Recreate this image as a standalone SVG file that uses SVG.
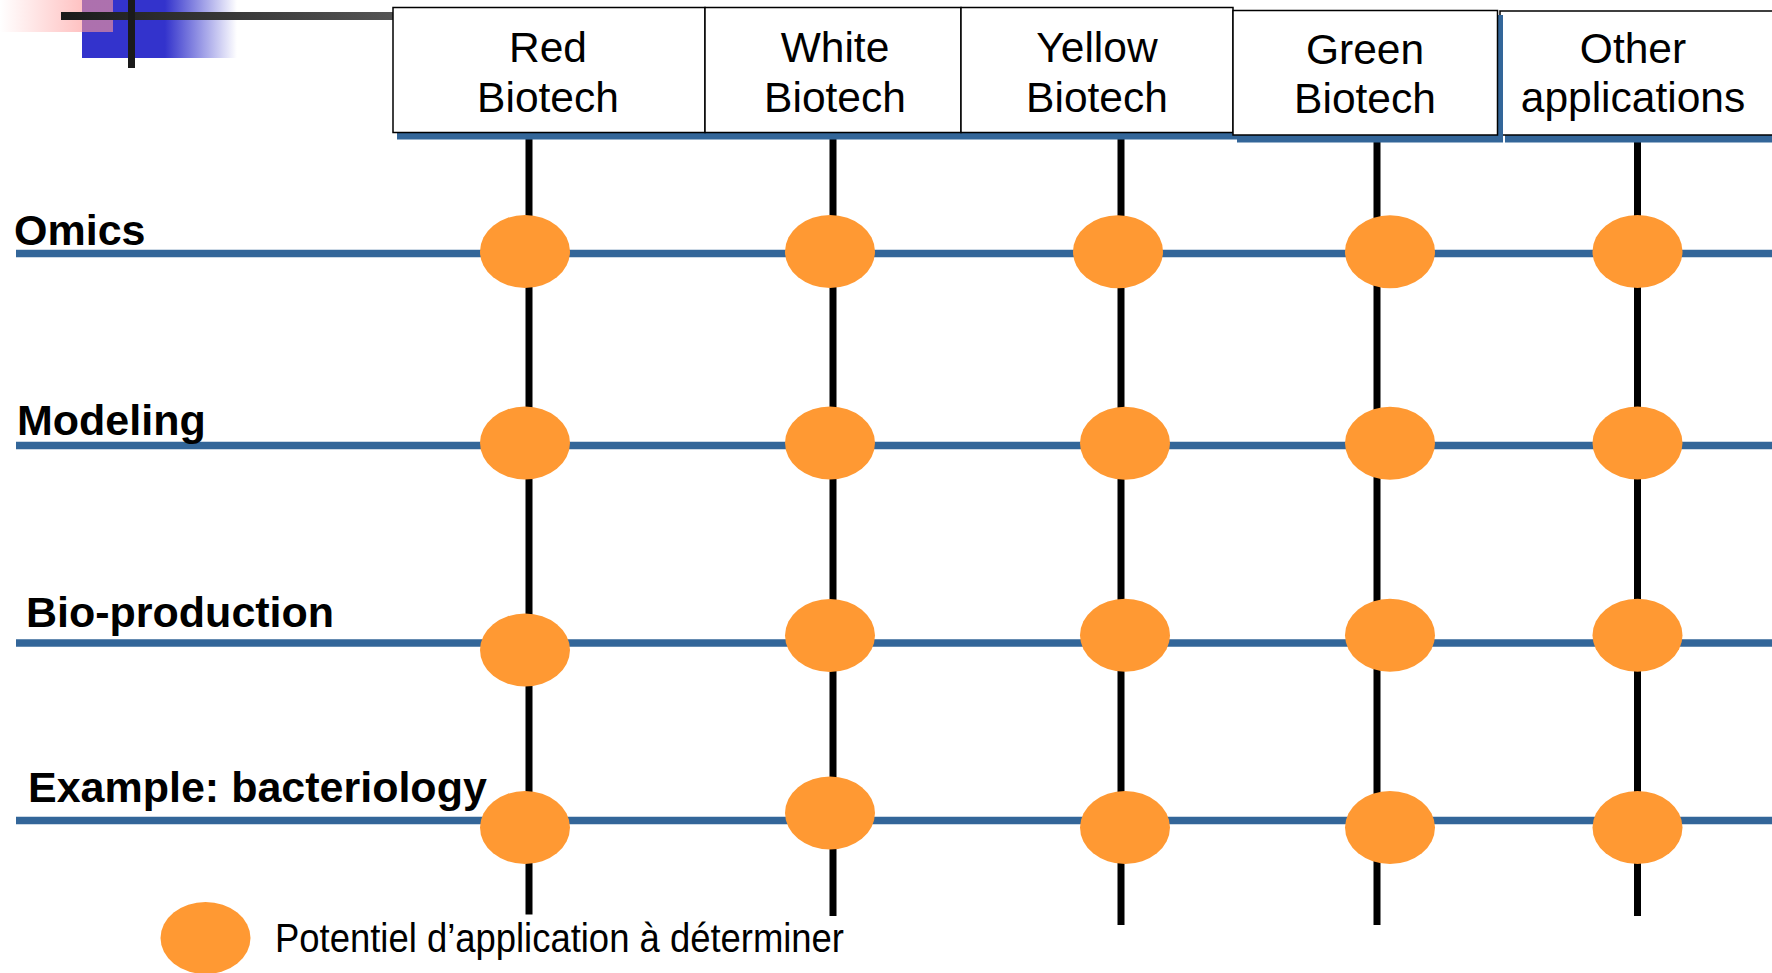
<svg xmlns="http://www.w3.org/2000/svg" width="1772" height="973" viewBox="0 0 1772 973">
  <defs>
    <linearGradient id="gBlue" x1="0" y1="0" x2="1" y2="0">
      <stop offset="0" stop-color="#3333cc"/>
      <stop offset="0.535" stop-color="#3333cc"/>
      <stop offset="1" stop-color="#3333cc" stop-opacity="0"/>
    </linearGradient>
    <linearGradient id="gPink" x1="0" y1="0" x2="1" y2="0">
      <stop offset="0" stop-color="#ff9a9a" stop-opacity="0"/>
      <stop offset="0.726" stop-color="#ff9a9a" stop-opacity="0.6"/>
      <stop offset="1" stop-color="#ff9a9a" stop-opacity="0.6"/>
    </linearGradient>
    <linearGradient id="gBar" x1="0" y1="0" x2="1" y2="0">
      <stop offset="0" stop-color="#1a1a1a"/>
      <stop offset="1" stop-color="#555555"/>
    </linearGradient>
    <style>
      .hdr { fill: #ffffff; stroke: #000000; stroke-width: 1.5; }
      .shd { fill: #336699; }
      .htxt { font-family: "Liberation Sans", Arial, sans-serif; font-size: 42.5px; fill: #000000; text-anchor: middle; }
      .rtxt { font-family: "Liberation Sans", Arial, sans-serif; font-size: 43px; font-weight: bold; fill: #000000; }
      .hline { stroke: #336699; stroke-width: 7.5; }
      .vline { stroke: #000000; stroke-width: 7; }
      .dot { fill: #ff9933; }
      .leg { font-family: "Liberation Sans", Arial, sans-serif; font-size: 40px; fill: #000000; }
    </style>
  </defs>

  <g id="decoration">
    <rect x="82" y="0" width="155" height="58" fill="url(#gBlue)"/>
    <rect x="0" y="0" width="113" height="32" fill="url(#gPink)"/>
    <rect x="61" y="12" width="334" height="8" fill="url(#gBar)"/>
    <rect x="128" y="0" width="7" height="68" fill="#1a1a1a"/>
  </g>

  <g id="connectors">
    <line class="vline" x1="529" y1="136" x2="529" y2="914.5"/>
    <line class="vline" x1="833" y1="136" x2="833" y2="916"/>
    <line class="vline" x1="1121" y1="136" x2="1121" y2="925"/>
    <line class="vline" x1="1377" y1="140" x2="1377" y2="925"/>
    <line class="vline" x1="1637.5" y1="140" x2="1637.5" y2="916"/>
    <line class="hline" x1="16" y1="253.5" x2="1772" y2="253.5"/>
    <line class="hline" x1="16" y1="445.5" x2="1772" y2="445.5"/>
    <line class="hline" x1="16" y1="643" x2="1772" y2="643"/>
    <line class="hline" x1="16" y1="820.5" x2="1772" y2="820.5"/>
  </g>

  <g id="header-other">
    <rect class="shd" x="1505" y="17" width="280" height="125.5"/>
    <rect class="hdr" x="1500" y="11" width="290" height="124"/>
    <text class="htxt" x="1633" y="63.3">Other</text>
    <text class="htxt" x="1633" y="112">applications</text>
  </g>
  <g id="header-red">
    <rect class="shd" x="397" y="12" width="312" height="127.5"/>
    <rect class="hdr" x="393" y="7.5" width="312" height="125"/>
    <text class="htxt" x="548" y="61.7">Red</text>
    <text class="htxt" x="548" y="111.7">Biotech</text>
  </g>
  <g id="header-white">
    <rect class="shd" x="709" y="12" width="256" height="127.5"/>
    <rect class="hdr" x="705" y="7.5" width="256" height="125"/>
    <text class="htxt" x="835" y="61.7">White</text>
    <text class="htxt" x="835" y="111.7">Biotech</text>
  </g>
  <g id="header-yellow">
    <rect class="shd" x="965" y="12" width="272" height="127.5"/>
    <rect class="hdr" x="961" y="7.5" width="272" height="125"/>
    <text class="htxt" x="1097" y="61.7">Yellow</text>
    <text class="htxt" x="1097" y="111.7">Biotech</text>
  </g>
  <g id="header-green">
    <rect class="shd" x="1237" y="15" width="266" height="127.5"/>
    <rect class="hdr" x="1233" y="10.5" width="264.5" height="124.5"/>
    <text class="htxt" x="1365" y="64">Green</text>
    <text class="htxt" x="1365" y="113.3">Biotech</text>
  </g>

  <g id="row-omics">
    <text class="rtxt" x="14" y="245">Omics</text>
    <ellipse class="dot" cx="525" cy="251.5" rx="45" ry="36.5"/>
    <ellipse class="dot" cx="830" cy="251.5" rx="45" ry="36.5"/>
    <ellipse class="dot" cx="1118" cy="251.7" rx="45" ry="36.5"/>
    <ellipse class="dot" cx="1390" cy="251.7" rx="45" ry="36.5"/>
    <ellipse class="dot" cx="1637.5" cy="251.5" rx="45" ry="36.5"/>
  </g>
  <g id="row-modeling">
    <text class="rtxt" x="17" y="435">Modeling</text>
    <ellipse class="dot" cx="525" cy="443" rx="45" ry="36.5"/>
    <ellipse class="dot" cx="830" cy="443" rx="45" ry="36.5"/>
    <ellipse class="dot" cx="1125" cy="443.3" rx="45" ry="36.5"/>
    <ellipse class="dot" cx="1390" cy="443.3" rx="45" ry="36.5"/>
    <ellipse class="dot" cx="1637.5" cy="443" rx="45" ry="36.5"/>
  </g>
  <g id="row-bioproduction">
    <text class="rtxt" x="26" y="627">Bio-production</text>
    <ellipse class="dot" cx="525" cy="650" rx="45" ry="36.5"/>
    <ellipse class="dot" cx="830" cy="635.5" rx="45" ry="36.5"/>
    <ellipse class="dot" cx="1125" cy="635.3" rx="45" ry="36.5"/>
    <ellipse class="dot" cx="1390" cy="635.3" rx="45" ry="36.5"/>
    <ellipse class="dot" cx="1637.5" cy="635.3" rx="45" ry="36.5"/>
  </g>
  <g id="row-example">
    <text class="rtxt" x="28" y="802">Example: bacteriology</text>
    <ellipse class="dot" cx="525" cy="827.5" rx="45" ry="36.5"/>
    <ellipse class="dot" cx="830" cy="813" rx="45" ry="36.5"/>
    <ellipse class="dot" cx="1125" cy="827.5" rx="45" ry="36.5"/>
    <ellipse class="dot" cx="1390" cy="827.5" rx="45" ry="36.5"/>
    <ellipse class="dot" cx="1637.5" cy="827.5" rx="45" ry="36.5"/>
  </g>

  <g id="legend">
    <ellipse class="dot" cx="205.5" cy="938" rx="45" ry="36"/>
    <text class="leg" x="275" y="951.7" textLength="569" lengthAdjust="spacingAndGlyphs">Potentiel d’application à déterminer</text>
  </g>
</svg>
